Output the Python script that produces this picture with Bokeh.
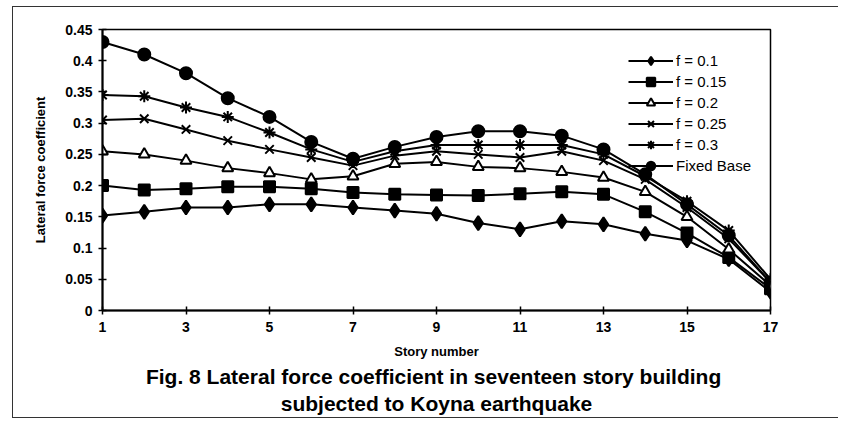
from bokeh.plotting import figure
from bokeh.models import FixedTicker, NumeralTickFormatter, Legend, LegendItem, Title, Range1d
from bokeh.embed import file_html
from bokeh.resources import INLINE

# ---- data ----
stories = list(range(1, 18))
f_01 = [0.152, 0.158, 0.165, 0.165, 0.170, 0.170, 0.165, 0.160, 0.155, 0.140, 0.130, 0.143, 0.138, 0.123, 0.112, 0.082, 0.030]
f_015 = [0.200, 0.193, 0.195, 0.198, 0.198, 0.195, 0.189, 0.186, 0.185, 0.184, 0.187, 0.190, 0.186, 0.158, 0.124, 0.085, 0.035]
f_02 = [0.255, 0.250, 0.240, 0.228, 0.220, 0.210, 0.215, 0.235, 0.238, 0.230, 0.228, 0.222, 0.213, 0.190, 0.150, 0.098, 0.040]
f_025 = [0.305, 0.307, 0.290, 0.272, 0.258, 0.245, 0.232, 0.248, 0.255, 0.250, 0.245, 0.255, 0.240, 0.210, 0.165, 0.115, 0.045]
f_03 = [0.345, 0.343, 0.325, 0.310, 0.285, 0.258, 0.238, 0.255, 0.265, 0.265, 0.265, 0.265, 0.250, 0.215, 0.175, 0.128, 0.050]
fixed_base = [0.430, 0.410, 0.380, 0.340, 0.310, 0.270, 0.243, 0.262, 0.278, 0.287, 0.287, 0.280, 0.258, 0.218, 0.170, 0.120, 0.045]

series_labels = ["f = 0.1", "f = 0.15", "f = 0.2", "f = 0.25", "f = 0.3", "Fixed Base"]
x_ticks = [1, 3, 5, 7, 9, 11, 13, 15, 17]
y_ticks = [0, 0.05, 0.1, 0.15, 0.2, 0.25, 0.3, 0.35, 0.4, 0.45]
x_title = "Story number"
y_title = "Lateral force coefficient"
caption_1 = "Fig. 8  Lateral force coefficient in seventeen story building"
caption_2 = "subjected to Koyna earthquake"

FONT = "Liberation Sans"

p = figure(width=826, height=412,
           x_range=Range1d(1, 17), y_range=Range1d(0, 0.45),
           output_backend="svg", toolbar_location=None,
           min_border_left=89, min_border_right=69, min_border_top=22, min_border_bottom=109,
           background_fill_color="white", border_fill_color="white")

p.xgrid.visible = False
p.ygrid.visible = False
p.outline_line_color = "black"
p.outline_line_width = 1.5

# axes
p.xaxis.ticker = FixedTicker(ticks=x_ticks)
p.yaxis.ticker = FixedTicker(ticks=y_ticks)
p.yaxis.formatter = NumeralTickFormatter(format="0.[00]")
for ax in (p.xaxis, p.yaxis):
    ax.axis_line_color = "black"
    ax.axis_line_width = 2
    ax.major_tick_line_color = "black"
    ax.major_tick_line_width = 1.5
    ax.major_tick_in = 4
    ax.major_tick_out = 4
    ax.minor_tick_line_color = None
    ax.major_label_text_font = FONT
    ax.major_label_text_font_style = "bold"
    ax.major_label_text_font_size = "14px"
    ax.major_label_text_color = "black"
    ax.axis_label_text_font = FONT
    ax.axis_label_text_font_style = "bold"
    ax.axis_label_text_color = "black"
p.xaxis.major_label_standoff = 7
p.yaxis.major_label_standoff = 6
p.xaxis.axis_label = x_title
p.xaxis.axis_label_text_font_size = "13px"
p.xaxis.axis_label_standoff = 9
p.yaxis.axis_label = y_title
p.yaxis.axis_label_text_font_size = "13px"
p.yaxis.axis_label_standoff = 14

series = [f_01, f_015, f_02, f_025, f_03, fixed_base]
markers = ["diamond", "square", "triangle", "x", "asterisk", "circle"]
sizes = [14, 11, 11, 12, 12, 12]
fills = ["black", "black", "white", "black", "black", "black"]

items = []
for ys, lab, mk, sz, fc in zip(series, series_labels, markers, sizes, fills):
    ln = p.line(stories, ys, line_color="black", line_width=2)
    sc = p.scatter(stories, ys, marker=mk, size=sz, fill_color=fc,
                   line_color="black", line_width=2)
    items.append(LegendItem(label=lab, renderers=[ln, sc]))

legend = Legend(items=items, location=(526, 134),
                glyph_width=45, glyph_height=21, label_height=21,
                label_standoff=3, spacing=0, padding=0, margin=0,
                border_line_color=None, background_fill_alpha=0,
                label_text_font=FONT, label_text_font_size="15px",
                label_text_color="black")
p.add_layout(legend, "center")

t1 = Title(text=caption_1, align="center", text_font=FONT, text_font_style="bold",
           text_font_size="21px", text_color="black", standoff=3)
t2 = Title(text=caption_2, align="center", text_font=FONT, text_font_style="bold",
           text_font_size="21px", text_color="black", standoff=0)
p.add_layout(t1, "below")
p.add_layout(t2, "below")

# scanned-page frame around the figure
p.styles = {"margin": "6px 0px 0px 12px", "border-left": "1px solid #333",
            "border-top": "1px solid #333", "border-bottom": "1px solid #333"}

open("out.html", "w").write(file_html(p, INLINE))
